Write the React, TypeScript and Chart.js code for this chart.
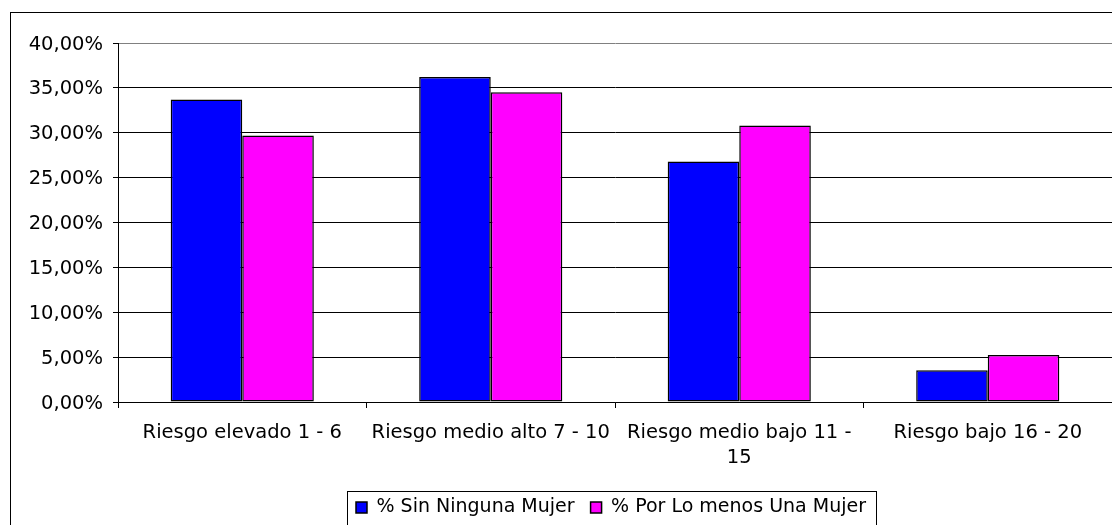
import React, { useEffect, useRef } from 'react';
import { Chart, registerables } from 'chart.js';

Chart.register(...registerables);

// ---- data ----
const categories: (string | string[])[] = [
  'Riesgo elevado 1 - 6',
  'Riesgo medio alto 7 - 10',
  ['Riesgo medio bajo 11 -', '15'],
  'Riesgo bajo 16 - 20',
];
const seriesNames = ['% Sin Ninguna Mujer', '% Por Lo menos Una Mujer'];
const sinNingunaMujer = [33.7, 36.2, 26.8, 3.55];
const porLoMenosUnaMujer = [29.7, 34.5, 30.8, 5.25];
const yTickLabels = ['0,00%', '5,00%', '10,00%', '15,00%', '20,00%', '25,00%', '30,00%', '35,00%', '40,00%'];
const seriesColors = ['#0000FF', '#FF00FF'];

const FONT = "'DejaVu Sans', Verdana, sans-serif";
const FS = 19.5;
const W = 1222;
const H = 540;

const framePlugin = {
  id: 'frame',
  afterDraw(chart: any) {
    const ctx = chart.ctx;
    ctx.save();
    ctx.strokeStyle = '#000';
    ctx.lineWidth = 1;
    // outer chart border
    ctx.strokeRect(10.5, 12.5, chart.width - 21, chart.height - 14);
    // legend border
    const hb = chart.legend && chart.legend.legendHitBoxes;
    if (hb && hb.length) {
      const last = hb[hb.length - 1];
      const l = Math.round(hb[0].left - 9) + 0.5;
      const r = Math.round(last.left + last.width + 10) + 0.5;
      const t = Math.round(hb[0].top - 7) + 0.5;
      const b = t + 36;
      ctx.strokeRect(l, t, r - l, b - t);
    }
    ctx.restore();
  },
};

export default function App() {
  const ref = useRef<HTMLCanvasElement | null>(null);

  useEffect(() => {
    if (!ref.current) return;
    const font = { family: FONT, size: FS };
    const barStyle = {
      borderColor: '#000',
      borderWidth: 1.5,
      borderSkipped: false,
      categoryPercentage: 0.576,
      barPercentage: 1,
    };
    const chart = new Chart(ref.current, {
      type: 'bar',
      data: {
        labels: categories,
        datasets: [
          { label: seriesNames[0], data: sinNingunaMujer, backgroundColor: seriesColors[0], ...barStyle },
          { label: seriesNames[1], data: porLoMenosUnaMujer, backgroundColor: seriesColors[1], ...barStyle },
        ],
      },
      options: {
        animation: false,
        responsive: false,
        maintainAspectRatio: false,
        devicePixelRatio: 1,
        color: '#000',
        layout: { padding: { top: 43, left: 0, right: 0, bottom: 13 } },
        plugins: {
          tooltip: { enabled: false },
          legend: {
            position: 'bottom',
            align: 'center',
            labels: {
              font: { family: FONT, size: 19 },
              color: '#000',
              boxWidth: 11,
              boxHeight: 11,
              padding: 16,
            },
          },
        },
        scales: {
          x: {
            offset: true,
            grid: {
              offset: true,
              drawOnChartArea: false,
              drawTicks: true,
              tickLength: 6,
              color: '#000',
            },
            border: { color: '#000', width: 1 },
            ticks: {
              font: { family: FONT, size: FS, lineHeight: 1.3 },
              color: '#000',
              padding: 12,
              autoSkip: false,
              maxRotation: 0,
              minRotation: 0,
            },
            afterFit: (s: any) => {
              s.height = 80;
            },
          },
          y: {
            min: 0,
            max: 40,
            ticks: {
              stepSize: 5,
              font,
              color: '#000',
              padding: 10,
              labelOffset: 1.5,
              callback: (_v: any, i: number) => yTickLabels[i],
            },
            grid: {
              color: (c: any) => (c.tick && c.tick.value === 40 ? '#808080' : '#000'),
              tickColor: '#000',
              tickLength: 5,
              lineWidth: 1,
            },
            border: { color: '#000', width: 1 },
            afterFit: (s: any) => {
              s.width = 118;
            },
          },
          y2: {
            position: 'right',
            display: true,
            grid: { display: false },
            ticks: { display: false },
            border: { display: false },
            afterFit: (s: any) => {
              s.width = 110;
            },
          },
        },
      },
      plugins: [framePlugin],
    } as any);
    return () => chart.destroy();
  }, []);

  return (
    <div style={{ position: 'fixed', left: 0, top: 0, width: W, height: H, background: '#fff' }}>
      <canvas ref={ref} width={W} height={H} style={{ display: 'block', width: W, height: H }} />
    </div>
  );
}
